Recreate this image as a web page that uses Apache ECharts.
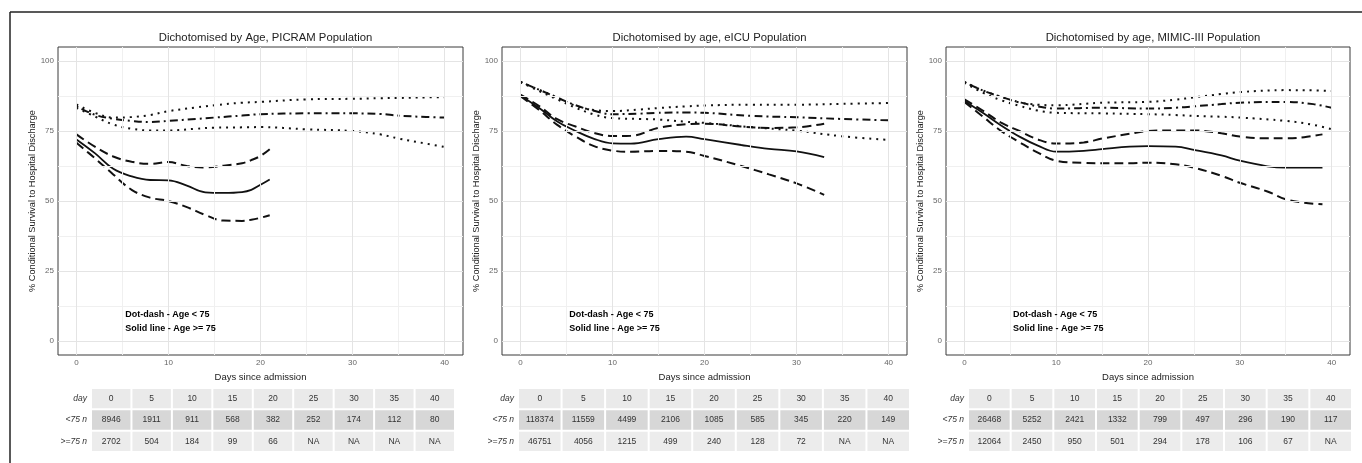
<!DOCTYPE html>
<html>
<head>
<meta charset="utf-8">
<script src="https://cdn.jsdelivr.net/npm/echarts@6/dist/echarts.min.js"></script>
<style>
  html, body { margin: 0; padding: 0; background: #fff; }
  #main { width: 1362px; height: 463px; }
</style>
</head>
<body>
<div id="main"></div>
<script>
  // panel titles
  var titles = ['Dichotomised by Age, PICRAM Population', 'Dichotomised by age, eICU Population', 'Dichotomised by age, MIMIC-III Population'];

  // PICRAM — age < 75 (dot-dash estimate, dotted CI)
  var p1DaysYoung = [0, 2, 4, 6, 8, 10, 13, 15, 18, 20, 25, 30, 33, 35, 38, 40];
  var p1YoungUpper = [84.5, 81.5, 79.8, 80.0, 80.7, 82.1, 83.4, 84.2, 85.1, 85.4, 86.3, 86.5, 86.7, 86.8, 87.0, 87.1];
  var p1YoungEst = [83.9, 80.8, 79.4, 78.6, 78.2, 78.6, 79.3, 79.8, 80.5, 81.0, 81.3, 81.3, 81.1, 80.5, 80.0, 79.8];
  var p1YoungLower = [83.3, 80.2, 77.3, 75.8, 75.2, 75.2, 75.8, 76.2, 76.3, 76.4, 75.6, 75.0, 73.8, 72.3, 70.5, 69.3];
  // PICRAM — age >= 75 (solid estimate, dashed CI)
  var p1DaysOld = [0, 2, 4, 6, 8, 10, 12, 14, 16, 18, 19, 20, 21];
  var p1OldUpper = [73.8, 69.4, 65.9, 64.0, 63.3, 63.9, 62.5, 62.0, 62.6, 63.5, 64.6, 66.1, 68.5];
  var p1OldEst = [72.0, 67.1, 61.5, 58.8, 57.5, 57.4, 55.5, 53.1, 52.9, 53.2, 54.0, 55.8, 57.7];
  var p1OldLower = [70.8, 65.3, 59.5, 54.0, 51.2, 50.0, 47.8, 45.0, 43.0, 42.9, 43.3, 44.0, 44.9];

  // eICU
  var p2DaysYoung = [0, 2, 4, 6, 8, 10, 13, 15, 18, 20, 25, 30, 35, 40];
  var p2YoungUpper = [92.5, 89.8, 87.0, 84.0, 82.5, 82.1, 82.7, 83.2, 83.8, 84.1, 84.4, 84.4, 84.7, 85.0];
  var p2YoungEst = [92.5, 89.8, 86.9, 84.2, 82.2, 81.0, 81.2, 81.5, 81.6, 81.5, 80.4, 79.9, 79.3, 78.8];
  var p2YoungLower = [92.5, 89.3, 86.3, 83.3, 80.9, 79.6, 79.3, 79.1, 78.3, 77.9, 76.4, 75.1, 73.1, 71.8];
  var p2DaysOld = [0, 2, 4, 6, 8, 10, 12, 15, 18, 20, 24, 27, 30, 33];
  var p2OldUpper = [88.0, 84.0, 79.2, 76.6, 74.3, 73.2, 73.3, 76.1, 77.4, 77.6, 76.6, 76.1, 76.3, 77.6];
  var p2OldEst = [87.7, 83.3, 78.4, 75.0, 72.2, 70.6, 70.5, 72.1, 73.0, 72.1, 70.0, 68.6, 67.7, 65.7];
  var p2OldLower = [87.4, 82.6, 77.2, 73.0, 69.6, 68.0, 67.6, 67.9, 67.6, 66.1, 62.5, 59.5, 56.3, 52.2];

  // MIMIC-III
  var p3DaysYoung = [0, 2, 4, 6, 8, 10, 15, 20, 23, 25, 28, 30, 35, 38, 40];
  var p3YoungUpper = [92.5, 89.5, 87.2, 85.2, 84.4, 84.2, 85.1, 85.4, 86.2, 87.0, 88.2, 88.9, 89.6, 89.5, 89.3];
  var p3YoungEst = [92.5, 89.5, 87.2, 85.3, 83.8, 83.0, 83.3, 83.0, 83.3, 83.8, 84.6, 85.1, 85.4, 84.6, 83.3];
  var p3YoungLower = [92.3, 88.7, 86.0, 84.0, 82.3, 81.5, 81.3, 81.0, 80.7, 80.4, 80.1, 79.8, 78.6, 77.2, 75.6];
  var p3DaysOld = [0, 2, 4, 6, 8, 10, 13, 15, 18, 20, 23, 25, 28, 30, 33, 35, 37, 39];
  var p3OldUpper = [86.3, 82.3, 78.0, 75.0, 72.0, 70.5, 70.9, 72.3, 74.0, 75.0, 75.2, 75.2, 74.2, 73.0, 72.4, 72.4, 72.8, 73.8];
  var p3OldEst = [85.7, 81.5, 77.0, 73.0, 69.8, 67.6, 67.9, 68.5, 69.4, 69.6, 69.4, 68.3, 66.3, 64.4, 62.4, 61.9, 61.9, 61.9];
  var p3OldLower = [85.4, 80.2, 75.0, 71.0, 67.3, 64.4, 63.6, 63.5, 63.5, 63.7, 63.1, 61.9, 59.0, 56.5, 53.4, 50.6, 49.4, 48.8];

  // at-risk tables
  var tableDays = ['0', '5', '10', '15', '20', '25', '30', '35', '40'];
  var tableRows = ['day', '<75 n', '>=75 n'];
  var p1NYoung = ['8946', '1911', '911', '568', '382', '252', '174', '112', '80'];
  var p1NOld = ['2702', '504', '184', '99', '66', 'NA', 'NA', 'NA', 'NA'];
  var p2NYoung = ['118374', '11559', '4499', '2106', '1085', '585', '345', '220', '149'];
  var p2NOld = ['46751', '4056', '1215', '499', '240', '128', '72', 'NA', 'NA'];
  var p3NYoung = ['26468', '5252', '2421', '1332', '799', '497', '296', '190', '117'];
  var p3NOld = ['12064', '2450', '950', '501', '294', '178', '106', '67', 'NA'];

  var notes = ['Dot-dash - Age < 75', 'Solid line - Age >= 75'];
  var notePos = [[5.3, 9.6], [5.3, 4.6]];

  var xTicks = [0, 10, 20, 30, 40];
  var yTicks = [0, 25, 50, 75, 100];
  var xMinor = [5, 15, 25, 35];
  var yMinor = [12.5, 37.5, 62.5, 87.5];

  var FONT = '"Liberation Sans", Arial, sans-serif';
  var panels = [
    { grid: { left: 58, width: 405 }, table: { left: 91, width: 364 },
      young: [p1DaysYoung, p1YoungUpper, p1YoungEst, p1YoungLower],
      old: [p1DaysOld, p1OldUpper, p1OldEst, p1OldLower], n: [tableDays, p1NYoung, p1NOld] },
    { grid: { left: 502, width: 405 }, table: { left: 518, width: 392 },
      young: [p2DaysYoung, p2YoungUpper, p2YoungEst, p2YoungLower],
      old: [p2DaysOld, p2OldUpper, p2OldEst, p2OldLower], n: [tableDays, p2NYoung, p2NOld] },
    { grid: { left: 946, width: 404 }, table: { left: 968, width: 384 },
      young: [p3DaysYoung, p3YoungUpper, p3YoungEst, p3YoungLower],
      old: [p3DaysOld, p3OldUpper, p3OldEst, p3OldLower], n: [tableDays, p3NYoung, p3NOld] }
  ];

  var DOTTED = [2, 5];
  var DASHED = [9, 5];
  var DOTDASH = [2, 4, 8, 4];
  var rowColors = ['#eaeaea', '#d7d7d7', '#ececec'];

  function zip(xs, ys) {
    return xs.map(function (x, i) { return [x, ys[i]]; });
  }

  var grids = [], xAxes = [], yAxes = [], series = [], titleList = [];

  panels.forEach(function (p, k) {
    var gi = k * 2, ti = k * 2 + 1;
    grids.push({ left: p.grid.left, width: p.grid.width, top: 47, height: 308,
      show: true, borderColor: '#3a3a3a', borderWidth: 1, backgroundColor: '#fff' });
    grids.push({ left: p.table.left, width: p.table.width, top: 388, height: 64 });

    titleList.push({ text: titles[k], left: p.grid.left + p.grid.width / 2, top: 27, textAlign: 'center',
      textStyle: { fontFamily: FONT, fontSize: 11.3, fontWeight: 'normal', color: '#222' } });

    xAxes.push({ gridIndex: gi, type: 'value', min: -2, max: 42,
      name: 'Days since admission', nameLocation: 'middle', nameGap: 15,
      nameTextStyle: { fontFamily: FONT, fontSize: 9.5, color: '#222' },
      axisLine: { show: false }, splitLine: { show: false },
      axisTick: { show: true, length: 3, customValues: xTicks, lineStyle: { color: '#666' } },
      axisLabel: { customValues: xTicks, margin: 4, fontFamily: FONT, fontSize: 8, color: '#666' } });
    yAxes.push({ gridIndex: gi, type: 'value', min: -5, max: 105,
      name: '% Conditional Survival to Hospital Discharge', nameLocation: 'middle', nameGap: 18, nameRotate: 90,
      nameTextStyle: { fontFamily: FONT, fontSize: 9.2, color: '#222' },
      axisLine: { show: false }, splitLine: { show: false },
      axisTick: { show: true, length: 3, customValues: yTicks, lineStyle: { color: '#666' } },
      axisLabel: { customValues: yTicks, margin: 4, fontFamily: FONT, fontSize: 8, color: '#666' } });

    xAxes.push({ gridIndex: ti, type: 'category', data: tableDays, show: false });
    yAxes.push({ gridIndex: ti, type: 'category', data: tableRows, inverse: true,
      axisLine: { show: false }, axisTick: { show: false }, splitLine: { show: false },
      axisLabel: { margin: 4, fontFamily: FONT, fontSize: 8.5, fontStyle: 'italic', color: '#333' } });

    // panel grid lines
    var gridLines = [];
    xMinor.forEach(function (v) { gridLines.push({ xAxis: v, lineStyle: { color: '#f0f0f0' } }); });
    yMinor.forEach(function (v) { gridLines.push({ yAxis: v, lineStyle: { color: '#f0f0f0' } }); });
    xTicks.forEach(function (v) { gridLines.push({ xAxis: v, lineStyle: { color: '#e4e4e4' } }); });
    yTicks.forEach(function (v) { gridLines.push({ yAxis: v, lineStyle: { color: '#e4e4e4' } }); });
    series.push({ type: 'line', xAxisIndex: gi, yAxisIndex: gi, data: [], z: 1,
      markLine: { silent: true, symbol: ['none', 'none'], label: { show: false }, animation: false,
        lineStyle: { width: 1, type: 'solid' }, data: gridLines } });

    var y = p.young, o = p.old;
    [[y[1], DOTTED, 2], [y[2], DOTDASH, 2], [y[3], DOTTED, 2]].forEach(function (s) {
      series.push({ type: 'line', xAxisIndex: gi, yAxisIndex: gi, data: zip(y[0], s[0]), smooth: 0.4,
        showSymbol: false, z: 3, lineStyle: { color: '#111', width: s[2], type: s[1], cap: 'butt' } });
    });
    [[o[1], DASHED, 2], [o[2], 'solid', 1.8], [o[3], DASHED, 2]].forEach(function (s) {
      series.push({ type: 'line', xAxisIndex: gi, yAxisIndex: gi, data: zip(o[0], s[0]), smooth: 0.4,
        showSymbol: false, z: 3, lineStyle: { color: '#111', width: s[2], type: s[1], cap: 'butt' } });
    });

    // annotation text
    series.push({ type: 'custom', xAxisIndex: gi, yAxisIndex: gi, data: notePos, z: 5,
      renderItem: function (params, api) {
        var c = api.coord([api.value(0), api.value(1)]);
        return { type: 'text', style: { text: notes[params.dataIndex], x: c[0], y: c[1], align: 'left',
          verticalAlign: 'middle', fontFamily: FONT, fontSize: 9, fontWeight: 'bold', fill: '#000' } };
      } });

    // table cells
    var cells = [], texts = [];
    p.n.forEach(function (row, r) {
      row.forEach(function (t, c) { cells.push([c, r]); texts.push(t); });
    });
    series.push({ type: 'custom', xAxisIndex: ti, yAxisIndex: ti, data: cells,
      renderItem: function (params, api) {
        var c = api.coord([api.value(0), api.value(1)]);
        var s = api.size([1, 1]);
        var r = api.value(1);
        return { type: 'group', children: [
          { type: 'rect', shape: { x: c[0] - s[0] / 2 + 1, y: c[1] - s[1] / 2 + 1, width: s[0] - 2, height: s[1] - 2 },
            style: { fill: rowColors[r] } },
          { type: 'text', style: { text: texts[params.dataIndex], x: c[0], y: c[1], align: 'center',
            verticalAlign: 'middle', fontFamily: FONT, fontSize: 8.5, fill: '#333' } }
        ] };
      } });
  });

  var chart = echarts.init(document.getElementById('main'));
  chart.setOption({
    animation: false,
    backgroundColor: '#fff',
    title: titleList,
    grid: grids,
    xAxis: xAxes,
    yAxis: yAxes,
    series: series,
    graphic: [
      { type: 'line', shape: { x1: 10, y1: 12, x2: 1362, y2: 12 }, style: { stroke: '#222', lineWidth: 1.5 } },
      { type: 'line', shape: { x1: 10, y1: 12, x2: 10, y2: 463 }, style: { stroke: '#222', lineWidth: 1.5 } }
    ]
  });
</script>
</body>
</html>
